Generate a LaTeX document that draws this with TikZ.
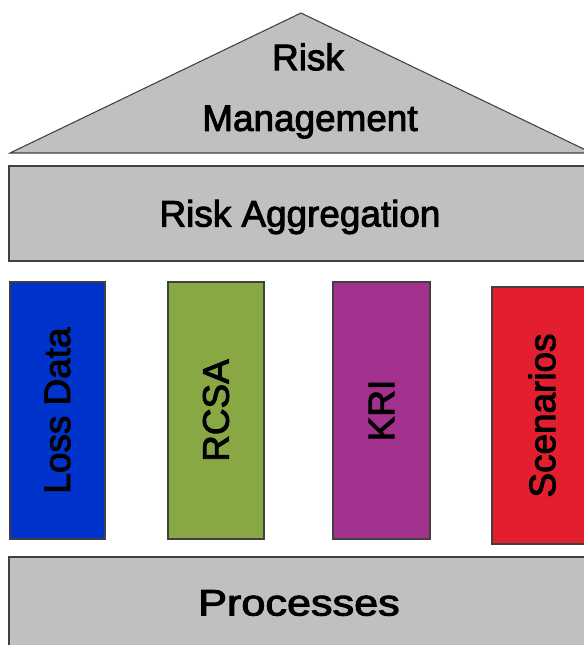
\documentclass[tikz,border=0pt]{standalone}
\usepackage{fontspec}
\setmainfont{Liberation Sans}
\newfontfamily\housefont[FakeBold=2.5]{Liberation Sans}
\usetikzlibrary{calc}

\definecolor{roofgray}{RGB}{192,192,192}
\definecolor{edgegray}{RGB}{64,64,64}
\definecolor{lossblue}{RGB}{0,51,204}
\definecolor{rcsagreen}{RGB}{136,168,67}
\definecolor{krimagenta}{RGB}{163,50,143}
\definecolor{scenred}{RGB}{227,31,47}

\begin{document}
\begin{tikzpicture}[x=0.02cm,y=-0.02cm,
  slab/.style={fill=roofgray, draw=edgegray, line width=0.6pt},
  label/.style={inner sep=0pt, font=\housefont\fontsize{21}{21}\selectfont}]
\useasboundingbox (0,0) rectangle (583,645);

\def\pillar(#1,#2,#3,#4,#5,#6,#7){ % (x, y) of the top left corner, width, height, colour, name and text
\begin{scope}[shift={(#1,#2)}]
%the column itself
\draw[fill=#5, draw=edgegray, line width=0.6pt] (0,0) rectangle (#3,#4);
%its text, turned upwards
\node[label, rotate=90] (#6) at ($(0,0)!0.5!(#3,#4)$) {#7};
\end{scope}}

%The roof
\draw[slab] (10,153) -- (301,13) -- (592,153) -- cycle;
\node[label] (risk) at (308,57) {Risk};
\node[label] (mgmt) at (310,122) {Management};

%The beam
\draw[slab] (9,166) rectangle (600,261);
\node[label] (aggr) at (300,217) {Risk Aggregation};

%The columns
\pillar(10,282,95,257,lossblue,loss,Loss Data)
\pillar(168,282,96,257,rcsagreen,rcsa,RCSA)
\pillar(333,282,97,257,krimagenta,kri,KRI)
\pillar(492,287,100,257,scenred,scen,Scenarios)

%The base
\draw[slab] (9,557) rectangle (600,660);
\node[label] (proc) at (299,603) {\scalebox{1.17}[1]{Processes}};

\end{tikzpicture}
\end{document}
